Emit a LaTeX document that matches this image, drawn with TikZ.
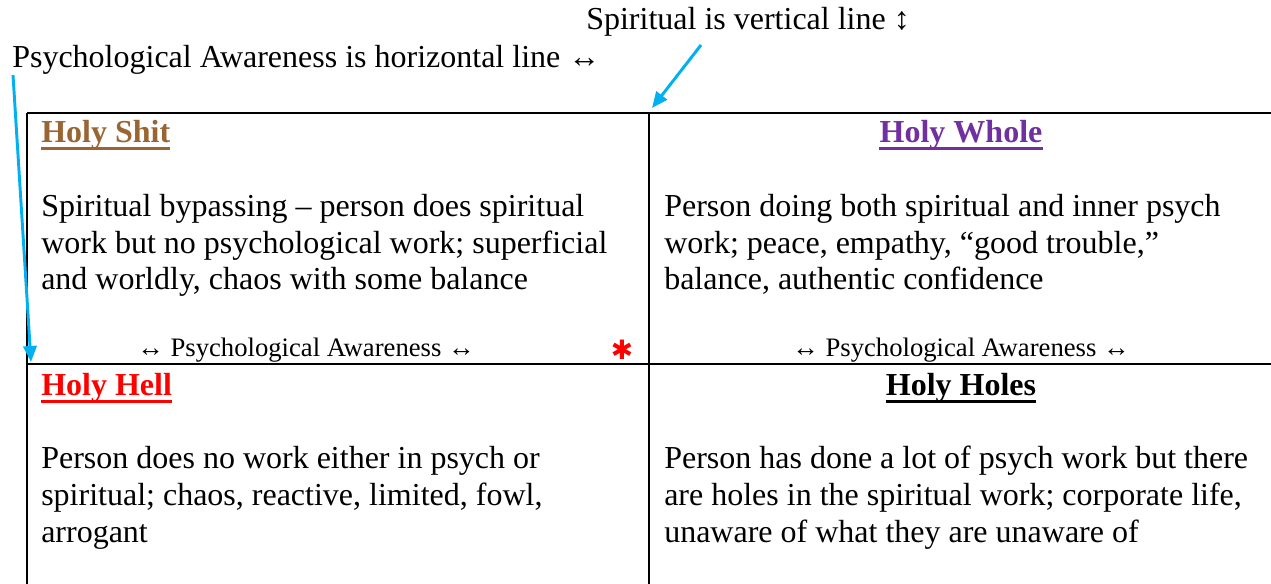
\documentclass[tikz,border=0pt]{standalone}
\usepackage{fontspec}
\setmainfont{Liberation Serif}
\newfontfamily\symfont{DejaVu Sans}
\usetikzlibrary{arrows.meta}
\definecolor{shitbrown}{HTML}{996633}
\definecolor{wholepurple}{HTML}{7030A0}
\definecolor{arrowblue}{HTML}{00B0F0}
\begin{document}
\begin{tikzpicture}[x=0.75pt,y=-0.75pt,
  bodytext/.style={anchor=base west,inner sep=0pt,align=left,font=\fontsize{24}{27.4}\selectfont},
  titletext/.style={inner sep=0pt,font=\fontsize{24}{27.4}\selectfont\bfseries},
  smalltext/.style={anchor=base west,inner sep=0pt,font=\fontsize{20}{22}\selectfont},
  pointer/.style={arrowblue,line width=2.2pt,-{Triangle[length=12pt,width=10pt]}}]
\useasboundingbox (0,0) rectangle (1271,584);
% the grid
\draw[line width=1.5pt] (27,113) -- (1271,113);
\draw[line width=1.5pt] (27,364) -- (1271,364);
\draw[line width=1.5pt] (27,113) -- (27,584);
\draw[line width=1.5pt] (649,113) -- (649,584);
% notes above
\node[bodytext] (spirit) at (586,30){Spiritual is vertical line ↕};
\node[bodytext] (psych) at (12,68){Psychological Awareness is horizontal line ↔};
\coordinate (spiritfrom) at (701,45);
\coordinate (spiritto) at (652,108);
\coordinate (psychfrom) at (13,75);
\coordinate (psychto) at (31,362);
\draw[pointer] (spiritfrom) -- (spiritto);
\draw[pointer] (psychfrom) -- (psychto);
% titles
\node[titletext,anchor=base west,text=shitbrown] (shit) at (41,143){Holy Shit};
\node[titletext,anchor=base,text=wholepurple] (whole) at (961,143){Holy Whole};
\node[titletext,anchor=base west,text=red] (hell) at (41,396){Holy Hell};
\node[titletext,anchor=base] (holes) at (961,396){Holy Holes};
\draw[shitbrown,line width=2.2pt] ([yshift=-4pt]shit.base west) -- ([yshift=-4pt]shit.base east);
\draw[wholepurple,line width=2.2pt] ([yshift=-4pt]whole.base west) -- ([yshift=-4pt]whole.base east);
\draw[red,line width=2.2pt] ([yshift=-4pt]hell.base west) -- ([yshift=-4pt]hell.base east);
\draw[line width=2.2pt] ([yshift=-4pt]holes.base west) -- ([yshift=-4pt]holes.base east);
% cell texts (base = last line)
\node[bodytext] (shitbody) at (41,290){Spiritual bypassing – person does spiritual\\work but no psychological work; superficial\\and worldly, chaos with some balance};
\node[bodytext] (wholebody) at (664,290){Person doing both spiritual and inner psych\\work; peace, empathy, “good trouble,”\\balance, authentic confidence};
\node[bodytext] (hellbody) at (41,542){Person does no work either in psych or\\spiritual; chaos, reactive, limited, fowl,\\arrogant};
\node[bodytext] (holesbody) at (664,542){Person has done a lot of psych work but there\\are holes in the spiritual work; corporate life,\\unaware of what they are unaware of};
% axis labels in the cells
\node[smalltext] (leftaxis) at (137,357){↔ Psychological Awareness ↔};
\node[smalltext,anchor=base] (rightaxis) at (961,357){↔ Psychological Awareness ↔};
\node[inner sep=0pt,text=red,font=\symfont\fontsize{20}{20}\selectfont] (star) at (622,350){✱};
\end{tikzpicture}
\end{document}
